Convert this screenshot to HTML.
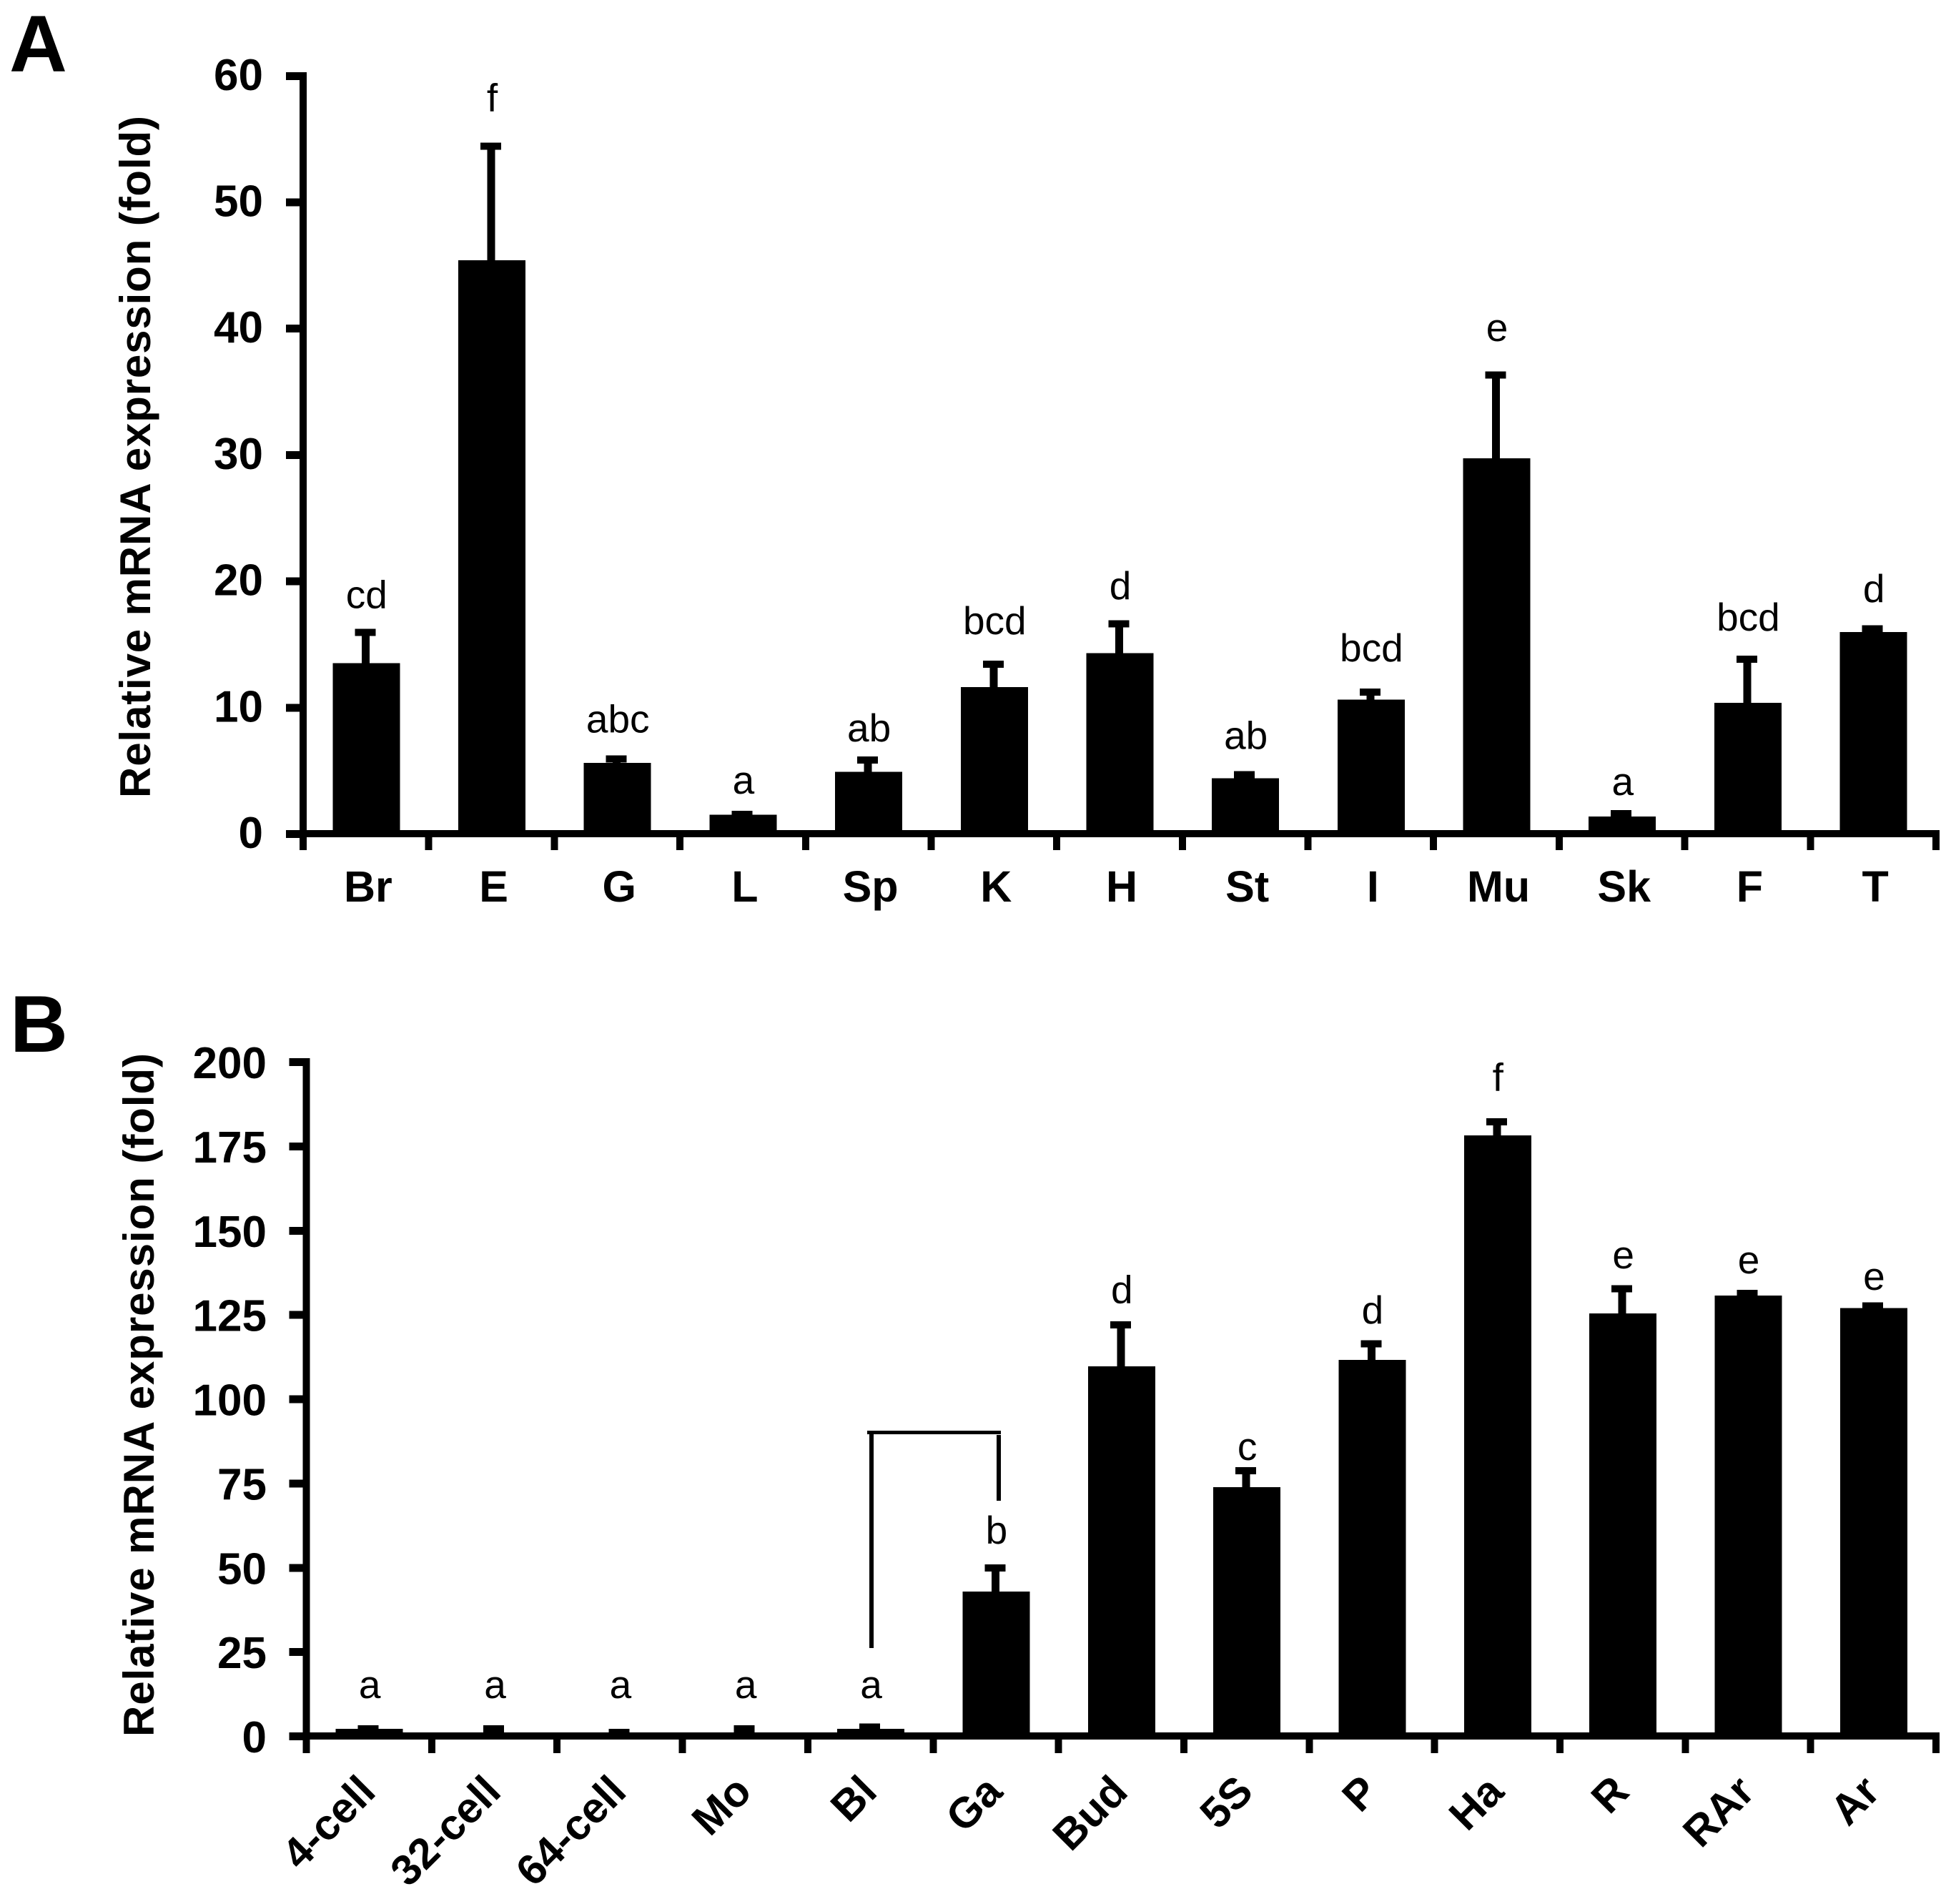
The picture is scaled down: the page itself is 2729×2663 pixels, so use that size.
<!DOCTYPE html>
<html lang="en">
<head>
<meta charset="utf-8">
<title>Relative mRNA expression</title>
<style>
html,body{margin:0;padding:0;background:#fff;width:2729px;height:2663px;overflow:hidden}
svg{display:block}
text{font-family:"Liberation Sans",Arial,sans-serif;fill:#000}
.b{font-weight:700}
</style>
</head>
<body>
<svg id="figure" xmlns="http://www.w3.org/2000/svg" width="2729" height="2663" viewBox="0 0 2729 2663">
  <rect x="0" y="0" width="2729" height="2663" fill="#fff"/>
  <text class="b" x="13" y="100" font-size="112">A</text>
  <text class="b" x="14" y="1471" font-size="112">B</text>
  <text class="b" font-size="60" transform="translate(210 1116) rotate(-90)" textLength="954" lengthAdjust="spacing">Relative mRNA expression (fold)</text>
  <text class="b" font-size="60" transform="translate(215 2429) rotate(-90)" textLength="956" lengthAdjust="spacing">Relative mRNA expression (fold)</text>
  <g id="panel-a"></g>
  <g id="panel-b"></g>
</svg>
<script>
// Panel A: adult tissues
const categoriesA = ['Br','E','G','L','Sp','K','H','St','I','Mu','Sk','F','T'];
const valuesA = [13.5,45.4,5.6,1.5,4.9,11.6,14.3,4.4,10.6,29.7,1.36,10.36,15.96];
const errorTopsA = [16.2,54.7,6.2,1.8,6.1,13.7,16.9,4.95,11.5,36.6,1.87,14.1,16.5];
const lettersA = ['cd','f','abc','a','ab','bcd','d','ab','bcd','e','a','bcd','d'];
const letterHeightsA = [17.86,57.2,8.0,3.17,7.3,15.78,18.56,6.72,13.64,38.98,3.06,16.07,18.34];
const tickLabelsA = [0,10,20,30,40,50,60];

// Panel B: developmental stages
const categoriesB = ['4-cell','32-cell','64-cell','Mo','Bl','Ga','Bud','5S','P','Ha','R','RAr','Ar'];
const valuesB = [2.1,0.8,0.5,0.8,2.1,42.8,109.6,73.8,111.6,178.2,125.3,130.6,126.9];
const errorTopsB = [3.2,3.2,2.1,3.2,3.7,50.9,123,79.7,117.4,183.2,133.7,132.3,128.6];
const lettersB = ['a','a','a','a','a','b','d','c','d','f','e','e','e'];
const letterHeightsB = [11.24,11.24,11.24,11.24,11.24,57,128.4,81.9,122.4,191.4,138.7,137.2,132.3];
const tickLabelsB = [0,25,50,75,100,125,150,175,200];

// Significance bracket between the Bl and Ga stages (axis units)
const bracketCategories = ['Bl','Ga'];
const bracketLevels = [26.1,90,69.8];

const NS = 'http://www.w3.org/2000/svg';
function slug(s){ return String(s).toLowerCase().replace(/[^a-z0-9]+/g,'-'); }
function rect(parent,x,y,w,h){
  const r = document.createElementNS(NS,'rect');
  r.setAttribute('x',x); r.setAttribute('y',y);
  r.setAttribute('width',w); r.setAttribute('height',h);
  r.setAttribute('fill','#000');
  r.setAttribute('shape-rendering','crispEdges');
  parent.appendChild(r);
  return r;
}
function label(parent,str,x,y,size,anchor,bold){
  const t = document.createElementNS(NS,'text');
  t.setAttribute('x',x); t.setAttribute('y',y);
  t.setAttribute('font-size',size);
  t.setAttribute('text-anchor',anchor);
  if(bold) t.setAttribute('class','b');
  t.textContent = str;
  parent.appendChild(t);
  return t;
}
function drawPanel(g,p,cats,vals,errs,lets,lets_h,ticks){
  const xAt = i => p.x0 + (i + 0.5) * p.step;
  const yAt = v => p.y0 - v * p.k;
  const half = 5;

  cats.forEach((c,i)=>{
    const cx = xAt(i);
    const bar = rect(g,cx-46.5,yAt(vals[i]),94,p.y0-yAt(vals[i]));
    
    
    const stem = rect(g,cx-half-1,yAt(errs[i]),11,Math.max(0,yAt(vals[i])-yAt(errs[i])));
    
    
    const cap = rect(g,cx-15.5,yAt(errs[i]),29,10);
    
    
    const sig = label(g,lets[i],cx+1,yAt(lets_h[i]),55,'middle',false);
    
    
  });

  const spine = rect(g,p.x0-half,p.top-5,10,p.y0+5+p.tickLen-(p.top-5));
  
  
  const base = rect(g,p.x0-half-19,p.y0-5,p.right-(p.x0-half-19),10);
  
  

  ticks.forEach(v=>{
    const tick = rect(g,p.x0-half-19,yAt(v)-5,19,11);
    
    
    const tl = label(g,v,p.labelRight,yAt(v)+p.labelDrop,62,'end',true);
    
    
  });

  for(let i=1;i<=cats.length;i++){
    const tick = rect(g,p.x0+i*p.step-half,p.y0+5,10,p.tickLen);
    
    
  }

  cats.forEach((c,i)=>{
    let t;
    if(p.rotate){
      const ax = xAt(i)+12, ay = p.catY;
      t = label(g,c,ax,ay,60,'end',true);
      t.setAttribute('transform','rotate(-45 '+ax+' '+ay+')');
    }else{
      t = label(g,c,xAt(i)+3,p.catY,61,'middle',true);
    }
    
    
  });
  return {xAt,yAt};
}

const scaleA = drawPanel(document.getElementById('panel-a'),
  {x0:424,step:175.69,y0:1166,k:17.67,top:106,tickLen:18,right:2713,labelRight:368,labelDrop:20,catY:1261,rotate:false},
  categoriesA,valuesA,errorTopsA,lettersA,letterHeightsA,tickLabelsA);

const panelB = document.getElementById('panel-b');
const scaleB = drawPanel(panelB,
  {x0:428.5,step:175.35,y0:2428,k:4.715,top:1485,tickLen:19,right:2713,labelRight:373,labelDrop:23,catY:2509,rotate:true},
  categoriesB,valuesB,errorTopsB,lettersB,letterHeightsB,tickLabelsB);

const brLeft = scaleB.xAt(categoriesB.indexOf(bracketCategories[0])) + 1.5;
const brRight = scaleB.xAt(categoriesB.indexOf(bracketCategories[1])) + 4;
const brTop = scaleB.yAt(bracketLevels[1]);
const brBar = rect(panelB,brLeft-6,brTop-2.5,brRight-brLeft+9,5);


const brL = rect(panelB,brLeft-3,brTop+2.5,6,scaleB.yAt(bracketLevels[0])-brTop-2.5);


const brR = rect(panelB,brRight-3,brTop+3.5,6,scaleB.yAt(bracketLevels[2])-brTop-3.5);


</script>
</body>
</html>
